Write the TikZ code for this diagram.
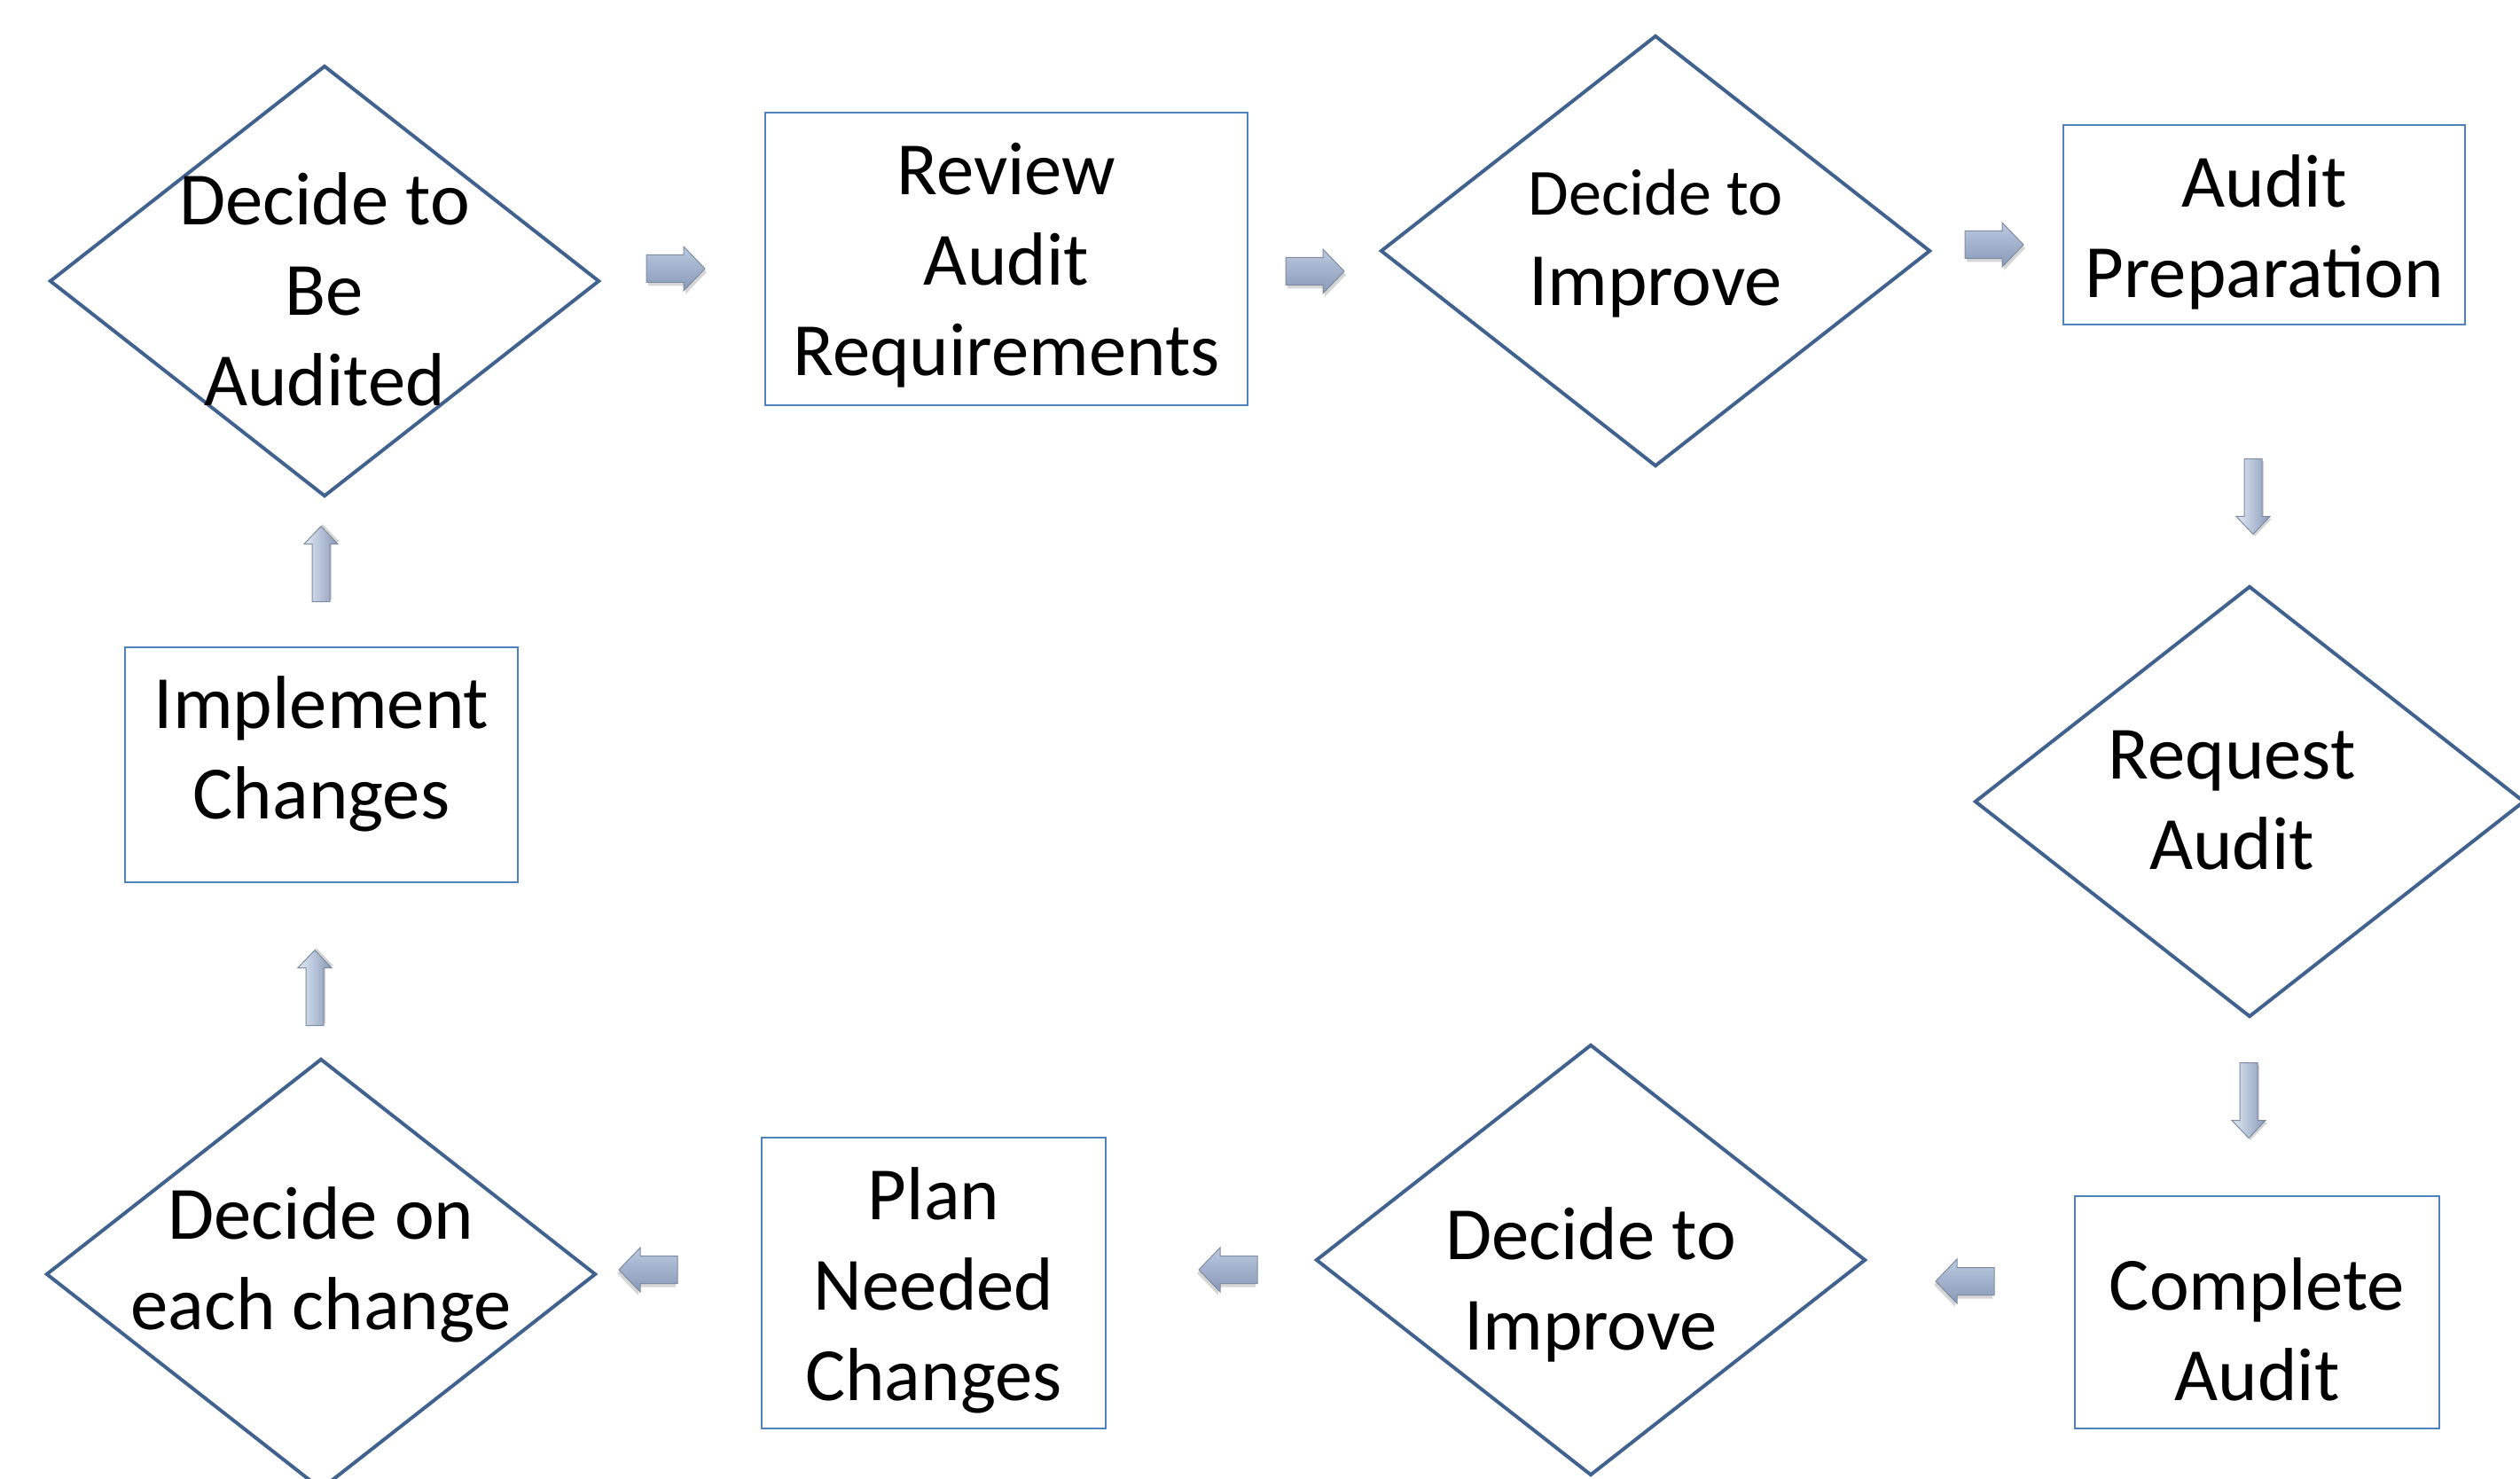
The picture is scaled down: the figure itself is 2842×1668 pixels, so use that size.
\documentclass[tikz,border=0pt]{standalone}
\usepackage{fontspec}
\setmainfont{Carlito}
\usetikzlibrary{shapes.geometric}
\definecolor{diaclr}{HTML}{41628F}
\definecolor{boxclr}{HTML}{4F81BD}
\definecolor{arrtop}{HTML}{BCCAE0}
\definecolor{arrmid}{HTML}{E2EAF5}
\definecolor{arrbot}{HTML}{8899B8}
\definecolor{arredge}{HTML}{7E8BA0}
\tikzset{
  dia/.style={draw=diaclr, line width=2pt, shape=diamond, inner sep=0pt,
              minimum width=310pt, minimum height=243pt},
  box/.style={draw=boxclr, line width=1.2pt, rectangle, inner sep=0pt},
  txt/.style={align=center, inner sep=0pt, font=\fontsize{42.4}{51}\selectfont},
  arrline/.style={draw=arredge, line width=0.5pt},
  arrshadow/.style={fill=black, opacity=0.16},
}
\newcommand\harr[4]{%
  \begin{scope}[shift={(#2,#3)}, xscale=#4]
    \fill[arrshadow] (-31,-11.5) -- (11,-11.5) -- (11,-21) -- (35,4) -- (11,29) -- (11,19.5) -- (-31,19.5) -- cycle;
    \path[arrline, top color=arrtop, middle color=arrmid, bottom color=arrbot]
      (-33,-15.5) -- (9,-15.5) -- (9,-25) -- (33,0) -- (9,25) -- (9,15.5) -- (-33,15.5) -- cycle;
    \coordinate (#1) at (0,0);
  \end{scope}}
\newcommand\varr[4]{%
  \begin{scope}[shift={(#2,#3)}, yscale=#4]
    \fill[arrshadow] (-8,-40) -- (12,-40) -- (12,25) -- (21,25) -- (2,45) -- (-17,25) -- (-8,25) -- cycle;
    \path[arrline, left color=arrmid, middle color=arrtop, right color=arrbot]
      (-10,-42.5) -- (10,-42.5) -- (10,22.5) -- (19,22.5) -- (0,42.5) -- (-19,22.5) -- (-10,22.5) -- cycle;
    \coordinate (#1) at (0,0);
  \end{scope}}
\begin{document}
\begin{tikzpicture}[x=0.5pt, y=-0.5pt]
  \fill[white] (0,0) rectangle (2842,1668);
  \clip (0,0) rectangle (2842,1668);

  % decision shapes
  \node[dia] (d1) at (366,317) {};
  \node[dia] (d2) at (1867,283) {};
  \node[dia] (d3) at (2537,904) {};
  \node[dia] (d4) at (1794,1421) {};
  \node[dia] (d5) at (362,1437) {};

  % boxes
  \node[box, minimum width=272pt, minimum height=165pt] (r1) at (1135,292) {};
  \node[box, minimum width=226.5pt, minimum height=112.5pt] (r2) at (2553.5,253.5) {};
  \node[box, minimum width=205.5pt, minimum height=131pt] (r3) at (2545.5,1480) {};
  \node[box, minimum width=194pt, minimum height=164pt] (r4) at (1053,1447) {};
  \node[box, minimum width=221.5pt, minimum height=132.5pt] (r5) at (362.5,862.5) {};

  % texts
  \node[txt] (t1) at (366,326) {Decide to\\Be\\Audited};
  \node[txt] (t2) at (1867,275) {{\fontsize{37.1}{44}\selectfont Decide to}\\Improve};
  \node[txt] (t3) at (2517,903) {Request\\Audit};
  \node[txt] (t4) at (1794,1449) {Decide to\\Improve};
  \node[txt] (t5) at (362,1426) {Decide on\\each change};
  \node[txt] (t6) at (1135,299) {Review\\Audit\\Requirements};
  \node[txt] (t7) at (2553.5,262) {Audit\\Preparation};
  \node[txt] (t8) at (2545.5,1499) {Complete\\Audit};
  \node[txt] (t9) at (1053,1455) {Plan\\Needed\\Changes};
  \node[txt] (t10) at (362.5,850) {Implement\\Changes};

  % block arrows
  \harr{a1}{762}{303}{1}
  \harr{a2}{1483}{306}{1}
  \harr{a3}{2249}{276}{1}
  \varr{a4}{2541}{560}{1}
  \varr{a5}{2536}{1241}{1}
  \harr{a6}{2216}{1445}{-1}
  \harr{a7}{1385}{1432}{-1}
  \harr{a8}{731}{1432}{-1}
  \varr{a9}{355}{1114}{-1}
  \varr{a10}{362}{636}{-1}
\end{tikzpicture}
\end{document}
